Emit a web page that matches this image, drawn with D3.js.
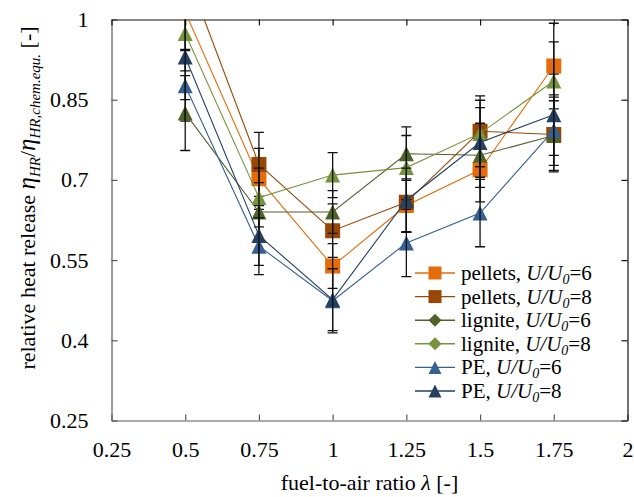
<!DOCTYPE html>
<html>
<head>
<meta charset="utf-8">
<script src="https://cdn.jsdelivr.net/npm/d3@7"></script>
<style>
  body { margin: 0; background: #fff; }
  svg { display: block; }
</style>
</head>
<body>
<svg id="chart" width="634" height="497"></svg>
<script>
// Fuel-to-air ratio (x positions of the measurements)
const lambdas = [0.5, 0.75, 1, 1.25, 1.5, 1.75];

// Relative heat release per fuel and velocity ratio
const pellets6 = [1.014, 0.702, 0.539, 0.652, 0.719, 0.913];
const pellets8 = [1.094, 0.729, 0.605, 0.658, 0.791, 0.785];
const lignite6 = [0.825, 0.640, 0.640, 0.749, 0.746, 0.783];
const lignite8 = [0.974, 0.667, 0.709, 0.723, 0.787, 0.885];
const pe6      = [0.876, 0.576, 0.474, 0.582, 0.638, 0.793];
const pe8      = [0.930, 0.596, 0.476, 0.662, 0.770, 0.822];

// Symmetric error (±) for each point
const pellets6Err = [0.070, 0.057, 0.042, 0.050, 0.060, 0.080];
const pellets8Err = [0.070, 0.060, 0.050, 0.055, 0.066, 0.070];
const lignite6Err = [0.070, 0.055, 0.040, 0.050, 0.060, 0.065];
const lignite8Err = [0.070, 0.055, 0.042, 0.060, 0.062, 0.073];
const pe6Err      = [0.066, 0.053, 0.060, 0.063, 0.063, 0.066];
const pe8Err      = [0.080, 0.056, 0.058, 0.060, 0.065, 0.076];

// Legend / series labels
const fuels  = ["pellets", "pellets", "lignite", "lignite", "PE", "PE"];
const ratios = ["6", "8", "6", "8", "6", "8"];

// Axis ticks
const xTicks = [0.25, 0.5, 0.75, 1, 1.25, 1.5, 1.75, 2];
const yTicks = [0.25, 0.4, 0.55, 0.7, 0.85, 1];

const series = [
  { values: pellets6, err: pellets6Err, color: "#E46C0A", marker: "square",   legendMarker: "square" },
  { values: pellets8, err: pellets8Err, color: "#974806", marker: "square",   legendMarker: "square" },
  { values: lignite6, err: lignite6Err, color: "#4F6228", marker: "triangle", legendMarker: "diamond" },
  { values: lignite8, err: lignite8Err, color: "#77933C", marker: "triangle", legendMarker: "diamond" },
  { values: pe6,      err: pe6Err,      color: "#376092", marker: "triangle", legendMarker: "triangle" },
  { values: pe8,      err: pe8Err,      color: "#254061", marker: "triangle", legendMarker: "triangle" }
].map((s, i) => ({ ...s, fuel: fuels[i], ratio: ratios[i] }));

const FONT = "Liberation Serif";
const svg = d3.select("#chart").style("font-family", FONT);
const plot = { left: 111.5, right: 627.5, top: 19.5, bottom: 420.5 };

const x = d3.scaleLinear().domain([0.25, 2]).range([plot.left, plot.right]);
const y = d3.scaleLinear().domain([0.25, 1]).range([plot.bottom, plot.top]);

const fmt = d => String(d);

// Axes: labelled bottom/left (grey), mirrored inward ticks on top/right (black)
const axB = svg.append("g").attr("transform", `translate(0,${plot.bottom})`)
  .call(d3.axisBottom(x).tickValues(xTicks).tickSizeInner(-6).tickSizeOuter(0).tickPadding(21).tickFormat(fmt));
const axL = svg.append("g").attr("transform", `translate(${plot.left},0)`)
  .call(d3.axisLeft(y).tickValues(yTicks).tickSizeInner(-6).tickSizeOuter(0).tickPadding(23).tickFormat(fmt));
const axT = svg.append("g").attr("transform", `translate(0,${plot.top})`)
  .call(d3.axisTop(x).tickValues(xTicks).tickSizeInner(-6).tickSizeOuter(0).tickFormat(""));
const axR = svg.append("g").attr("transform", `translate(${plot.right},0)`)
  .call(d3.axisRight(y).tickValues(yTicks).tickSizeInner(-6).tickSizeOuter(0).tickFormat(""));

[axB, axL].forEach(a => a.selectAll(".domain, .tick line").attr("stroke", "#595959").attr("stroke-width", 1.2));
[axT, axR].forEach(a => a.selectAll(".domain, .tick line").attr("stroke", "#111").attr("stroke-width", 1.2));
svg.selectAll(".tick text").attr("font-size", 22).attr("fill", "#000").style("font-family", FONT);

// Clip marks to the plot frame
svg.append("clipPath").attr("id", "plotClip").append("rect")
  .attr("x", plot.left).attr("y", plot.top)
  .attr("width", plot.right - plot.left).attr("height", plot.bottom - plot.top);

const marks = svg.append("g").attr("clip-path", "url(#plotClip)");

function markerPath(type, s) {
  const h = s / 2;
  if (type === "square") return `M${-h},${-h}H${h}V${h}H${-h}Z`;
  if (type === "diamond") return `M0,${-h}L${h},0L0,${h}L${-h},0Z`;
  return `M0,${-h}L${h},${h}L${-h},${h}Z`;
}

const line = d3.line().x(d => x(d[0])).y(d => y(d[1]));
const capW = 5;

series.forEach(s => {
  const pts = lambdas.map((l, i) => [l, s.values[i], s.err[i]]);
  const g = marks.append("g");

  g.append("path").datum(pts).attr("d", line)
    .attr("fill", "none").attr("stroke", s.color).attr("stroke-width", 1.1);

  g.selectAll(".mk").data(pts).join("path")
    .attr("transform", d => `translate(${x(d[0])},${y(d[1])})`)
    .attr("d", markerPath(s.marker, 15))
    .attr("fill", s.color);

  const eb = g.selectAll(".eb").data(pts).join("g").attr("stroke", "#111").attr("stroke-width", 1.3);
  eb.append("line")
    .attr("x1", d => x(d[0])).attr("x2", d => x(d[0]))
    .attr("y1", d => y(d[1] - d[2])).attr("y2", d => y(d[1] + d[2]));
  eb.append("line")
    .attr("x1", d => x(d[0]) - capW).attr("x2", d => x(d[0]) + capW)
    .attr("y1", d => y(d[1] + d[2])).attr("y2", d => y(d[1] + d[2]));
  eb.append("line")
    .attr("x1", d => x(d[0]) - capW).attr("x2", d => x(d[0]) + capW)
    .attr("y1", d => y(d[1] - d[2])).attr("y2", d => y(d[1] - d[2]));
});

// Legend
const legend = svg.append("g");
const legY0 = 273, legDy = 23.6;
series.forEach((s, i) => {
  const cy = legY0 + i * legDy;
  const row = legend.append("g");
  row.append("line").attr("x1", 415).attr("x2", 455).attr("y1", cy).attr("y2", cy)
    .attr("stroke", s.color).attr("stroke-width", 1.4);
  row.append("path").attr("transform", `translate(435,${cy})`)
    .attr("d", markerPath(s.legendMarker, 13)).attr("fill", s.color);
  const t = row.append("text").attr("x", 461).attr("y", cy + 7).attr("font-size", 21).style("font-family", FONT);
  t.append("tspan").text(s.fuel + ", ");
  t.append("tspan").attr("font-style", "italic").text("U/U");
  t.append("tspan").attr("font-style", "italic").attr("font-size", 14).attr("dy", 4).text("0");
  t.append("tspan").attr("dy", -4).text("=" + s.ratio);
});

// Axis titles
svg.append("text").attr("x", (plot.left + plot.right) / 2).attr("y", 490)
  .attr("text-anchor", "middle").attr("font-size", 22).style("font-family", FONT)
  .call(t => {
    t.append("tspan").text("fuel-to-air ratio ");
    t.append("tspan").attr("font-style", "italic").text("λ");
    t.append("tspan").text(" [-]");
  });

svg.append("text").attr("transform", "translate(35,198) rotate(-90)")
  .attr("text-anchor", "middle").attr("font-size", 22).style("font-family", FONT)
  .call(t => {
    t.append("tspan").text("relative heat release ");
    t.append("tspan").attr("font-style", "italic").attr("font-size", 25).text("η");
    t.append("tspan").attr("font-style", "italic").attr("font-size", 15).attr("dy", 5).text("HR");
    t.append("tspan").attr("dy", -5).attr("font-size", 22).text("/");
    t.append("tspan").attr("font-style", "italic").attr("font-size", 25).text("η");
    t.append("tspan").attr("font-style", "italic").attr("font-size", 15).attr("dy", 5).text("HR,chem.equ.");
    t.append("tspan").attr("dy", -5).attr("font-size", 22).text(" [-]");
  });
</script>
</body>
</html>
